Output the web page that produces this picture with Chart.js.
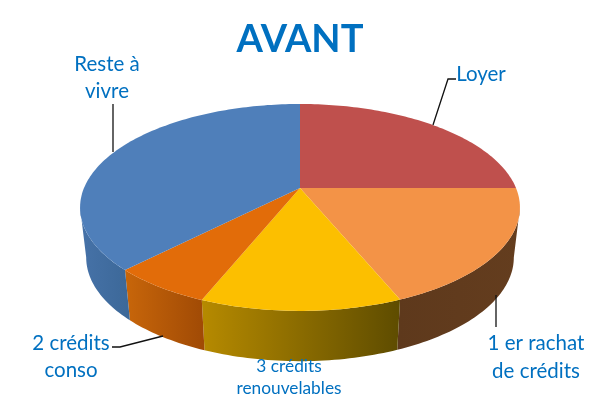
<!DOCTYPE html>
<html>
<head>
<meta charset="utf-8">
<style>
  body { margin: 0; background: #fff; }
  canvas { display: block; }
</style>
<script src="https://cdn.jsdelivr.net/npm/chart.js@4"></script>
</head>
<body>
<canvas id="myChart" width="600" height="400"></canvas>
<script>
const categories = ['Loyer', '1 er rachat de crédits', '3 crédits renouvelables', '2 crédits conso', 'Reste à vivre'];
const values = [800, 600, 396, 200, 1204];
const faceColors = ['#BF504D', '#F39347', '#FCBF00', '#E26C09', '#4F7FBA'];
const wallLeft = ['#7A3230', '#5E391C', '#B68A00', '#C8660A', '#4672A8'];
const wallRight = ['#7A3230', '#643D1E', '#5E4C00', '#A04A05', '#3C6898'];

// perspective of the pie: top face and bottom rim
const topFace = { cx: 300, cy: 188, a: 216, b: 99.8 };
const bottomRim = { cx: 300, cy: 238, a: 210, b: 100 };
const tilt = 0.188;

function project(face, angle) {
    const u = Math.cos(angle), v = Math.sin(angle);
    const w = 1 - tilt * v;
    return [face.cx + face.a * u / w, face.cy + face.b * v / w];
}

function angleSteps(start, end) {
    const n = Math.max(2, Math.ceil((end - start) / 0.02));
    const list = [];
    for (let i = 0; i <= n; i++) list.push(start + (end - start) * i / n);
    return list;
}

const labelBoxes = [
    { lines: ['Loyer'], x: 481, y: [74], size: 20.5, leader: [[456, 79], [448, 79], [433, 125]] },
    { lines: ['1 er rachat', 'de crédits'], x: 536, y: [343, 371], size: 20.5, leader: [[496, 295], [496, 327]] },
    { lines: ['3 crédits', 'renouvelables'], x: 289, y: [366, 388], size: 17.3, leader: null },
    { lines: ['2 crédits', 'conso'], x: 71, y: [343, 370], size: 20.5, leader: [[112, 347], [120, 347], [163, 336]] },
    { lines: ['Reste à', 'vivre'], x: 107, y: [64, 91], size: 20.5, leader: [[113, 104], [113, 152]] }
];

const pie3d = {
    id: 'pie3d',
    beforeDatasetsDraw(chart) {
        const ctx = chart.ctx;
        const arcs = chart.getDatasetMeta(0).data;
        // the walls start where the top rim is widest, the rest is hidden by the top face
        const side = Math.asin(tilt);

        arcs.forEach((arc, i) => {
            const start = Math.max(arc.startAngle, side);
            const end = Math.min(arc.endAngle, Math.PI - side);
            if (end <= start) return;
            const steps = angleSteps(start, end);
            const upper = steps.map(a => project(topFace, a));
            const lower = steps.map(a => project(bottomRim, a)).reverse();
            const xs = upper.concat(lower).map(p => p[0]);
            const grad = ctx.createLinearGradient(Math.min(...xs), 0, Math.max(...xs), 0);
            grad.addColorStop(0, wallLeft[i]);
            grad.addColorStop(1, wallRight[i]);
            ctx.beginPath();
            upper.concat(lower).forEach((p, k) => k ? ctx.lineTo(p[0], p[1]) : ctx.moveTo(p[0], p[1]));
            ctx.closePath();
            ctx.fillStyle = grad;
            ctx.fill();
        });

        // top face
        arcs.forEach((arc, i) => {
            ctx.beginPath();
            ctx.moveTo(topFace.cx, topFace.cy);
            angleSteps(arc.startAngle, arc.endAngle).forEach(a => {
                const p = project(topFace, a);
                ctx.lineTo(p[0], p[1]);
            });
            ctx.closePath();
            ctx.fillStyle = faceColors[i];
            ctx.fill();
        });

        // labels and their leader lines
        ctx.textAlign = 'center';
        ctx.textBaseline = 'middle';
        labelBoxes.forEach(box => {
            ctx.font = box.size + 'px Lato';
            ctx.fillStyle = '#0070C0';
            box.lines.forEach((line, i) => ctx.fillText(line, box.x, box.y[i]));
            if (box.leader) {
                ctx.beginPath();
                box.leader.forEach((p, i) => i ? ctx.lineTo(p[0], p[1]) : ctx.moveTo(p[0], p[1]));
                ctx.strokeStyle = '#111';
                ctx.lineWidth = 1.3;
                ctx.stroke();
            }
        });
        return false;
    }
};

const ctx = document.getElementById('myChart').getContext('2d');
const myChart = new Chart(ctx, {
    type: 'pie',
    data: {
        labels: categories,
        datasets: [{
            data: values,
            backgroundColor: faceColors,
            borderWidth: 0
        }]
    },
    options: {
        responsive: false,
        animation: false,
        layout: { padding: { top: 16 } },
        plugins: {
            legend: { display: false },
            tooltip: { enabled: false },
            title: {
                display: true,
                text: 'AVANT',
                color: '#0070C0',
                font: { family: 'Lato', size: 38, weight: 'bold' },
                padding: { top: 1, bottom: 0 }
            }
        }
    },
    plugins: [pie3d]
});
</script>
</body>
</html>
